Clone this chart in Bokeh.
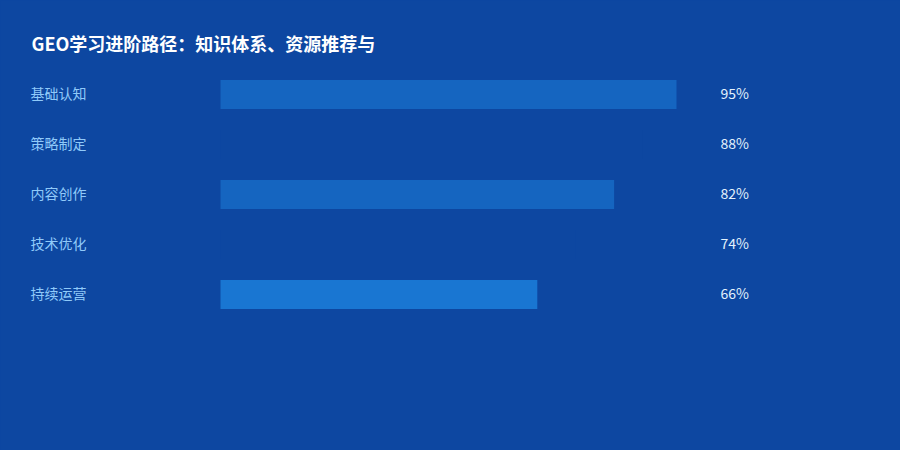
from bokeh.plotting import figure
from bokeh.models import Range1d, Label, ColumnDataSource
from bokeh.core.properties import value
from bokeh.embed import file_html
from bokeh.resources import INLINE

title_text = "GEO学习进阶路径：知识体系、资源推荐与"
categories = ["基础认知", "策略制定", "内容创作", "技术优化", "持续运营"]
values = [95, 88, 82, 74, 66]
bar_colors = ["#1565C0", "#0D47A1", "#1565C0", "#0D47A1", "#1976D2"]
value_labels = [f"{v}%" for v in values]

BG = "#0D47A1"
FONT = "Noto Sans CJK SC"

W, H = 900, 450
p = figure(width=W, height=H, output_backend="svg", toolbar_location=None,
           x_range=Range1d(-45.8333, 141.6667), y_range=Range1d(7.12, -1.88),
           min_border=0, min_border_left=0, min_border_right=0,
           min_border_top=0, min_border_bottom=0)
p.background_fill_color = BG
p.border_fill_color = BG
p.outline_line_color = None
p.axis.visible = False
p.grid.visible = False

idx = list(range(len(categories)))
src = ColumnDataSource(dict(y=idx, cat=categories, val=values, color=bar_colors,
                            lbl=value_labels, zero=[0] * len(idx),
                            full=[100] * len(idx)))

p.hbar(y="y", left=0, right="val", height=0.58, fill_color="color",
       line_color=None, source=src)

p.text(x="zero", y="y", text="cat", source=src, x_offset=-190, y_offset=-2,
       text_align="left", text_baseline="middle", text_color="#90CAF9",
       text_font=value(FONT), text_font_size="14px")

p.text(x="full", y="y", text="lbl", source=src, x_offset=20, y_offset=-2,
       text_align="left", text_baseline="middle", text_color="#E3F2FD",
       text_font=value(FONT), text_font_size="14px")

p.add_layout(Label(x=31, y=H - 42, x_units="screen", y_units="screen",
                   text=title_text, text_align="left", text_baseline="middle",
                   text_color="#FFFFFF", text_font=FONT, text_font_style="bold",
                   text_font_size="18px"))

open("out.html", "w").write(file_html(p, INLINE).replace(
    "<head>", "<head><style>html,body{background:#0D47A1;}</style>", 1))
